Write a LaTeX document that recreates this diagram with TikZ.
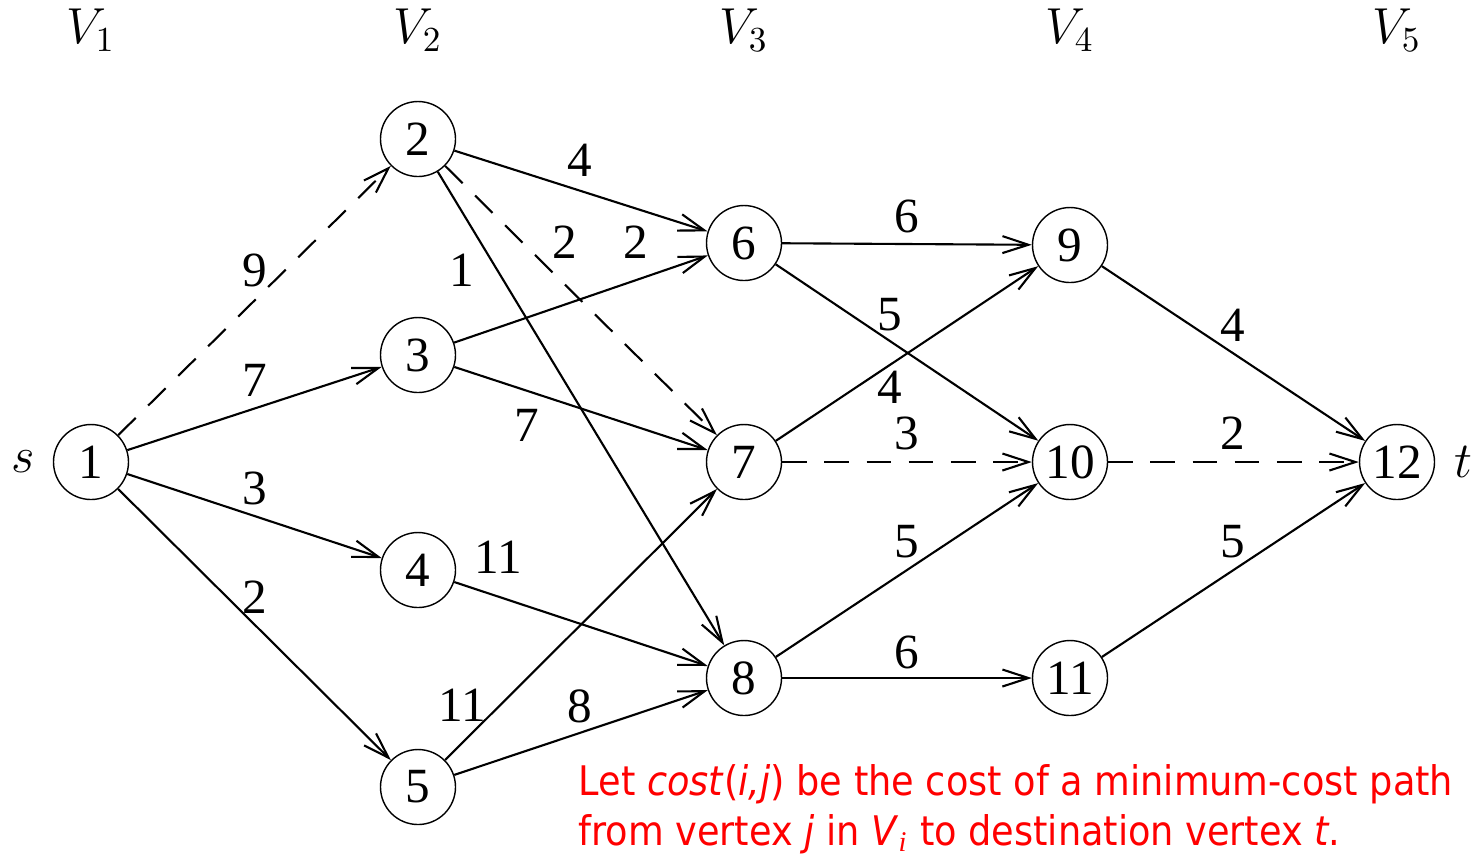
\documentclass[tikz,border=0pt]{standalone}
\usepackage{fontspec}
\setmainfont{Liberation Serif}
\newfontfamily\numfont{Liberation Serif}
\newfontfamily\notefont{DejaVu Sans Condensed}
\usepackage{tikz}
\usetikzlibrary{arrows.meta, positioning}

\begin{document}
\begin{tikzpicture}[
  vert/.style={draw, circle, minimum size=0.75cm, inner sep=0pt, font=\numfont\fontsize{14}{16}\selectfont},
  wt/.style={font=\numfont\fontsize{14}{16}\selectfont, inner sep=0pt},
  stage/.style={font=\fontsize{14.5}{16}\selectfont, inner sep=0pt},
  arr/.style={-{Straight Barb[length=0.26cm, width=0.17cm]}, semithick},
  darr/.style={arr, dashed, dash pattern=on 7pt off 5pt},
  note/.style={font=\notefont\fontsize{11.6}{14.2}\selectfont, text=red, anchor=base west, inner sep=0pt},
]
\useasboundingbox (0,0) rectangle (14.81,-8.53);

% stage labels
\node[stage] (L1) at (0.91,-0.30) {$V_1$};
\node[stage] (L2) at (4.18,-0.30) {$V_2$};
\node[stage] (L3) at (7.44,-0.30) {$V_3$};
\node[stage] (L4) at (10.70,-0.30) {$V_4$};
\node[stage] (L5) at (13.97,-0.30) {$V_5$};

% vertices
\node[vert] (v1) at (0.91,-4.62) {1};
\node[vert] (v2) at (4.18,-1.39) {2};
\node[vert] (v3) at (4.18,-3.55) {3};
\node[vert] (v4) at (4.18,-5.70) {4};
\node[vert] (v5) at (4.18,-7.87) {5};
\node[vert] (v6) at (7.44,-2.43) {6};
\node[vert] (v7) at (7.44,-4.62) {7};
\node[vert] (v8) at (7.44,-6.78) {8};
\node[vert] (v9) at (10.70,-2.45) {9};
\node[vert] (v10) at (10.70,-4.62) {10};
\node[vert] (v11) at (10.70,-6.78) {11};
\node[vert] (v12) at (13.97,-4.62) {12};

\node[stage] (src) at (0.23,-4.62) {$s$};
\node[stage] (snk) at (14.63,-4.62) {$t$};

% edges
\draw[darr] (v1) -- (v2);
\draw[arr] (v1) -- (v3);
\draw[arr] (v1) -- (v4);
\draw[arr] (v1) -- (v5);
\draw[arr] (v2) -- (v6);
\draw[darr] (v2) -- (v7);
\draw[arr] (v2) -- (v8);
\draw[arr] (v3) -- (v6);
\draw[arr] (v3) -- (v7);
\draw[arr] (v4) -- (v8);
\draw[arr] (v5) -- (v7);
\draw[arr] (v5) -- (v8);
\draw[arr] (v6) -- (v9);
\draw[arr] (v6) -- (v10);
\draw[arr] (v7) -- (v9);
\draw[darr] (v7) -- (v10);
\draw[arr] (v8) -- (v10);
\draw[arr] (v8) -- (v11);
\draw[arr] (v9) -- (v12);
\draw[darr] (v10) -- (v12);
\draw[arr] (v11) -- (v12);

% weights
\node[wt] (w12) at (2.55,-2.70) {9};
\node[wt] (w13) at (2.55,-3.80) {7};
\node[wt] (w14) at (2.55,-4.88) {3};
\node[wt] (w15) at (2.55,-5.97) {2};
\node[wt] (w26) at (5.80,-1.60) {4};
\node[wt] (w27) at (5.65,-2.42) {2};
\node[wt] (w28) at (4.62,-2.70) {1};
\node[wt] (w36) at (6.36,-2.42) {2};
\node[wt] (w37) at (5.27,-4.25) {7};
\node[wt] (w48) at (4.98,-5.57) {11};
\node[wt] (w57) at (4.62,-7.05) {11};
\node[wt] (w58) at (5.80,-7.06) {8};
\node[wt] (w69) at (9.07,-2.16) {6};
\node[wt] (w610) at (8.90,-3.15) {5};
\node[wt] (w79) at (8.90,-3.87) {4};
\node[wt] (w710) at (9.07,-4.33) {3};
\node[wt] (w810) at (9.07,-5.42) {5};
\node[wt] (w811) at (9.07,-6.52) {6};
\node[wt] (w912) at (12.33,-3.25) {4};
\node[wt] (w1012) at (12.33,-4.33) {2};
\node[wt] (w1112) at (12.33,-5.42) {5};

% remark
\node[note] (rem1) at (5.78,-7.95) {Let \textit{cost}(\textit{i,j}) be the cost of a minimum-cost path};
\node[note] (rem2) at (5.78,-8.45) {from vertex \textit{j} in \textit{V}$_{\mathit{i}}$ to destination vertex \textit{t}.};

\end{tikzpicture}
\end{document}
